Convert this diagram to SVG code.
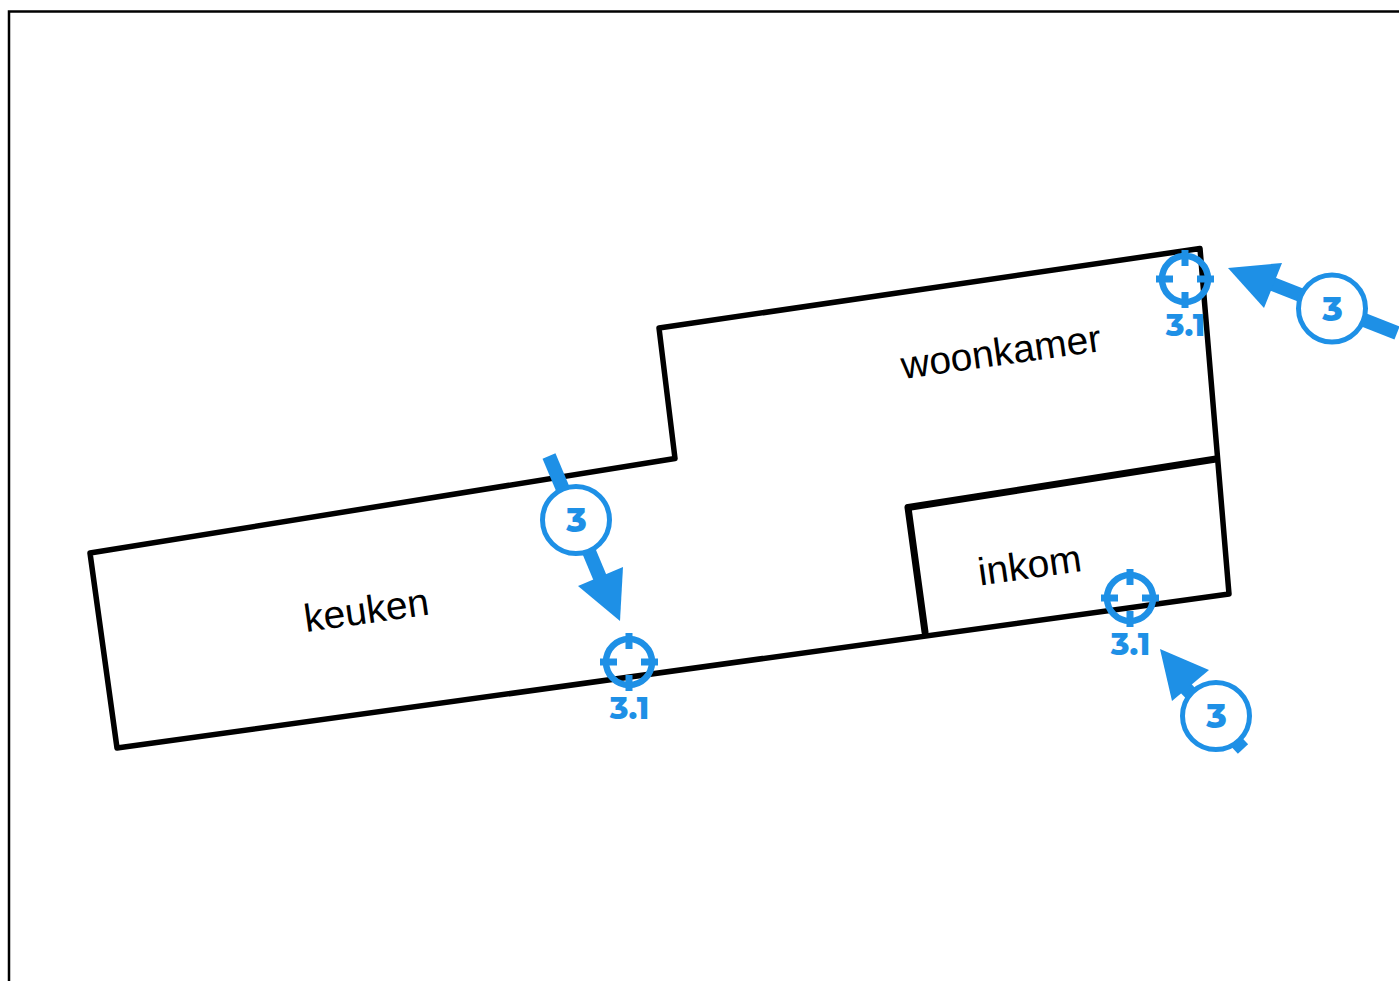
<svg xmlns="http://www.w3.org/2000/svg" width="1399" height="981" viewBox="0 0 1399 981">
<defs>
<g id="target"><circle r="23" class="bl" stroke-width="6.500" fill="none"/><path d="M0-29V-13M0 29V13M-29 0H-12M29 0H12" class="bl" stroke-width="7" fill="none"/></g>
</defs>
<style>
.w{fill:none;stroke:#000;stroke-linejoin:round;stroke-linecap:round}
.bl{stroke:#1e90e6}
.a{fill:#1e90e6;stroke:none}
.s{stroke:#1e90e6;stroke-width:14;fill:none}
.c{fill:#fff;stroke:#1e90e6;stroke-width:5}
.t{font-family:"Liberation Sans",Arial,sans-serif;font-size:39px;fill:#000}
.n{font-family:"Montserrat","Open Sans","Noto Sans",sans-serif;font-weight:800;fill:#1e90e6;text-anchor:middle}
</style>
<rect width="1399" height="981" fill="#fff"/>
<g id="frame"><path d="M9 981V11.500H1399" fill="none" stroke="#000" stroke-width="2.500"/></g>
<g id="plan">
<path class="w" stroke-width="5.500" d="M90 553L675 458.500L659 328L1200 248.500L1229 594L117 748Z"/>
<path class="w" stroke-width="7" d="M1216 459L908 507.500L925 632"/>
</g>
<g id="labels">
<text class="t" transform="translate(306 632) rotate(-8)">keuken</text>
<text class="t" transform="translate(903 379) rotate(-8)">woonkamer</text>
<text class="t" transform="translate(980 585.500) rotate(-8)">inkom</text>
</g>
<g id="connectors">
<path class="s" d="M549 456L606 592"/>
<path class="a" d="M578 586L623 567L620 621Z"/>
<path class="s" d="M1397 333L1252 276"/>
<path class="a" d="M1228 268L1282 263L1264 308Z"/>
<path class="s" d="M1243 749L1180 682"/>
<path class="a" d="M1160 649L1209 670L1172 701Z"/>
</g>
<g id="marker-1"><circle class="c" cx="576" cy="520" r="33.500"/><text class="n" x="576.500" y="532" font-size="34">3</text></g>
<g id="marker-2"><circle class="c" cx="1332" cy="308.500" r="33.500"/><text class="n" x="1332.500" y="320.500" font-size="34">3</text></g>
<g id="marker-3"><circle class="c" cx="1216" cy="716" r="33.500"/><text class="n" x="1216.500" y="728" font-size="34">3</text></g>
<g id="target-1"><use href="#target" x="629" y="662"/><text class="n" x="629.500" y="719" font-size="31">3.1</text></g>
<g id="target-2"><use href="#target" x="1185" y="279"/><text class="n" x="1185.500" y="336" font-size="31">3.1</text></g>
<g id="target-3"><use href="#target" x="1130" y="598"/><text class="n" x="1130.500" y="655" font-size="31">3.1</text></g>
</svg>
